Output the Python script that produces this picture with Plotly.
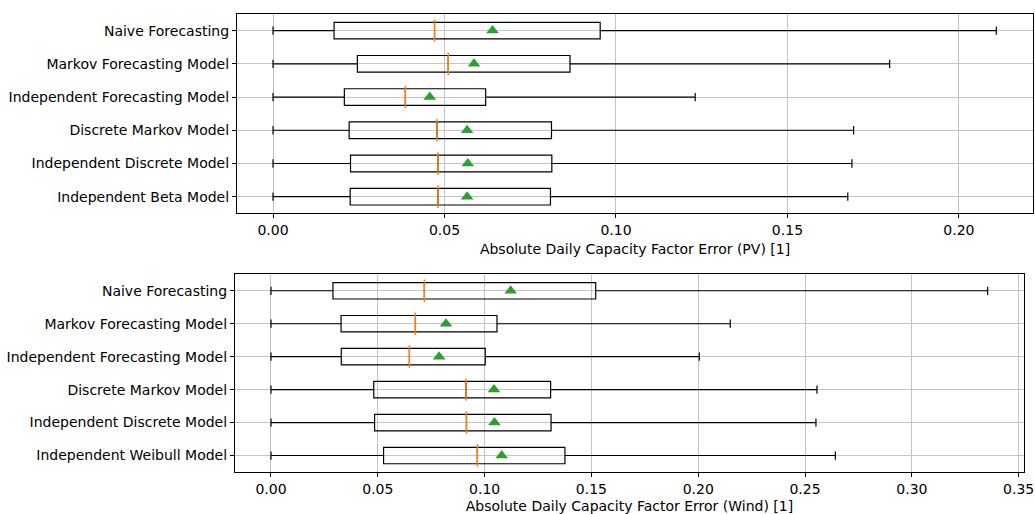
import plotly.graph_objects as go

# Model names (top row first)
models_pv = ["Naive Forecasting", "Markov Forecasting Model", "Independent Forecasting Model",
             "Discrete Markov Model", "Independent Discrete Model", "Independent Beta Model"]
models_wind = ["Naive Forecasting", "Markov Forecasting Model", "Independent Forecasting Model",
               "Discrete Markov Model", "Independent Discrete Model", "Independent Weibull Model"]

# PV error summary statistics
pv_low = [0.0, 0.0, 0.0, 0.0, 0.0, 0.0]
pv_q1 = [0.0178, 0.0246, 0.0208, 0.0222, 0.0226, 0.0225]
pv_median = [0.0471, 0.0511, 0.0386, 0.0478, 0.0481, 0.0481]
pv_q3 = [0.0954, 0.0866, 0.0620, 0.0812, 0.0813, 0.0809]
pv_high = [0.2109, 0.1798, 0.1231, 0.1693, 0.1688, 0.1676]
pv_mean = [0.0640, 0.0586, 0.0457, 0.0566, 0.0568, 0.0566]

# Wind error summary statistics
wind_low = [0.0, 0.0, 0.0, 0.0, 0.0, 0.0]
wind_q1 = [0.0290, 0.0328, 0.0329, 0.0481, 0.0485, 0.0527]
wind_median = [0.0718, 0.0676, 0.0648, 0.0913, 0.0915, 0.0966]
wind_q3 = [0.1520, 0.1058, 0.1003, 0.1309, 0.1311, 0.1376]
wind_high = [0.3355, 0.2150, 0.2005, 0.2556, 0.2551, 0.2642]
wind_mean = [0.1122, 0.0819, 0.0787, 0.1044, 0.1046, 0.1080]

W, H = 1035, 514
FONT = "DejaVu Sans"
FS = 14
GRID = "#c4c4c4"

fig = go.Figure()


def add_panel(names, low, q1, med, q3, high, mean, xa, ya):
    fig.add_trace(go.Box(
        y=names, q1=q1, median=med, q3=q3, lowerfence=low, upperfence=high,
        orientation="h", width=0.5, whiskerwidth=0.5,
        fillcolor="rgba(255,255,255,0)", line=dict(color="black", width=1.2),
        boxpoints=False, hoverinfo="skip", xaxis=xa, yaxis=ya, showlegend=False))
    fig.add_trace(go.Scatter(
        x=med, y=names, mode="markers", xaxis=xa, yaxis=ya, showlegend=False,
        marker=dict(symbol="line-ns", size=16, line=dict(color="#ff7f0e", width=1.5))))
    fig.add_trace(go.Scatter(
        x=mean, y=names, mode="markers", xaxis=xa, yaxis=ya, showlegend=False,
        marker=dict(symbol="triangle-up", size=11, color="#2ca02c")))


add_panel(models_pv, pv_low, pv_q1, pv_median, pv_q3, pv_high, pv_mean, "x", "y")
add_panel(models_wind, wind_low, wind_q1, wind_median, wind_q3, wind_high, wind_mean, "x2", "y2")

axis_common = dict(showline=True, mirror=True, linecolor="black", linewidth=1.2,
                   showgrid=True, gridcolor=GRID, gridwidth=1, zeroline=False,
                   ticks="outside", ticklen=4, tickcolor="black", automargin=False,
                   tickfont=dict(family=FONT, size=FS, color="black"))

fig.update_layout(
    width=W, height=H, margin=dict(l=0, r=0, t=0, b=0, autoexpand=False),
    paper_bgcolor="white", plot_bgcolor="white",
    font=dict(family=FONT, size=FS, color="black"),
    xaxis=dict(domain=[237 / W, 1033 / W], anchor="y", range=[-0.0105, 0.2216],
               tickvals=[0, 0.05, 0.10, 0.15, 0.20], tickformat=".2f",
               title=dict(text="Absolute Daily Capacity Factor Error (PV) [1]",
                          font=dict(family=FONT, size=FS), standoff=6),
               **axis_common),
    yaxis=dict(domain=[1 - 213.3 / H, 1 - 14 / H], anchor="x", range=[5.5, -0.5],
               type="category", **axis_common),
    xaxis2=dict(domain=[235 / W, 1024 / W], anchor="y2", range=[-0.01685, 0.3525],
                tickvals=[0, 0.05, 0.10, 0.15, 0.20, 0.25, 0.30, 0.35], tickformat=".2f",
                title=dict(text="Absolute Daily Capacity Factor Error (Wind) [1]",
                           font=dict(family=FONT, size=FS), standoff=6),
                **axis_common),
    yaxis2=dict(domain=[1 - 472 / H, 1 - 274.3 / H], anchor="x2", range=[5.5, -0.5],
                type="category", **axis_common),
)

fig.write_html("out.html")
